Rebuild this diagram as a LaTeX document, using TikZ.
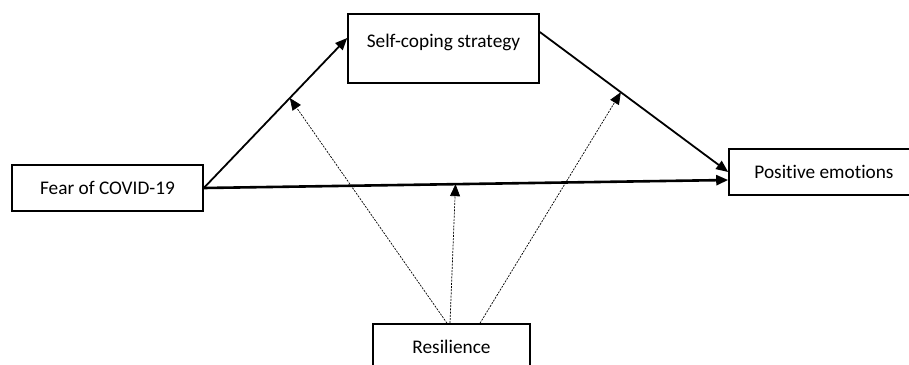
\documentclass[tikz,border=0pt]{standalone}
\usepackage{fontspec}
\setmainfont{Carlito}[Ligatures=NoCommon]
\usepackage{tikz}
\usetikzlibrary{arrows.meta, positioning, calc}

\begin{document}
\begin{tikzpicture}[
    x=1pt, y=-1pt,
    var/.style={draw, line width=1.6pt, minimum width=191pt, minimum height=46pt, inner sep=0pt, font=\fontsize{19.3}{22}\selectfont},
    path/.style={line width=1.8pt, -{Triangle[length=12pt, width=10pt]}},
    direct/.style={path, line width=2.6pt},
    modpath/.style={line width=0.7pt, dash pattern=on 2pt off 1.2pt, -{Triangle[length=12pt, width=10pt]}}
]
    \useasboundingbox (0,0) rectangle (909,364);

    % Boxes
    \node[var] (fear) at (107.5,188) {Fear of COVID-19};
    \node[var, minimum height=69pt, text depth=16pt] (cope) at (443.5,48.5) {Self-coping strategy};
    \node[var, minimum width=190pt] (pos) at (824,172) {Positive emotions};
    \node[var, minimum width=157pt] (res) at (451.5,347) {Resilience};

    % Paths
    \draw[path] (fear.east) -- coordinate[pos=0.6] (m1) ([yshift=10.5pt]cope.west);
    \draw[path] ([yshift=16.5pt]cope.east) -- coordinate[pos=0.43] (m2) (pos.west);
    \draw[direct] (fear.east) -- coordinate[pos=0.48] (m3) ([yshift=-8pt]pos.west);

    % Moderation
    \draw[modpath] ([xshift=-4.5pt]res.north) -- (m1);
    \draw[modpath] ([xshift=-1.5pt]res.north) -- (m3);
    \draw[modpath] ([xshift=28.5pt]res.north) -- (m2);
\end{tikzpicture}
\end{document}
